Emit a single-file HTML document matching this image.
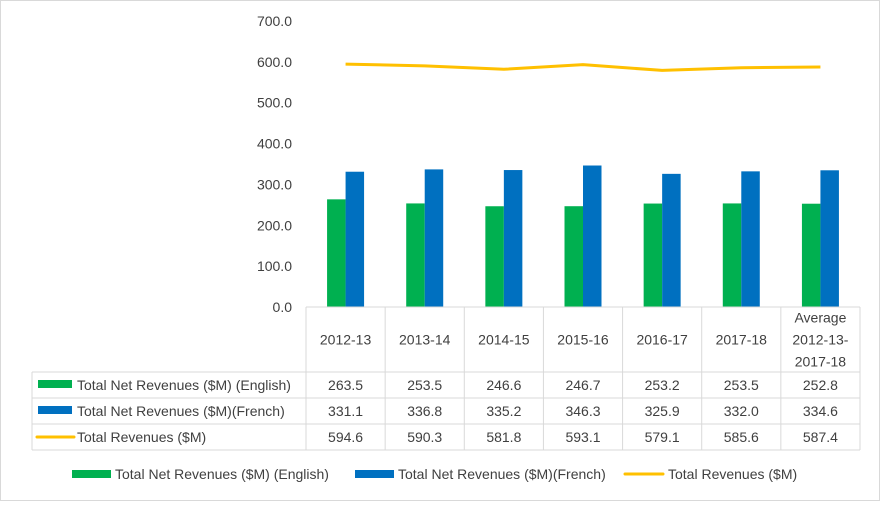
<!DOCTYPE html>
<html><head><meta charset="utf-8"><style>
body{margin:0;background:#fff}
#c{position:relative;width:880px;height:501px;font-family:"Liberation Sans",sans-serif;color:#404040}
svg text{font-family:"Liberation Sans",sans-serif;fill:#404040;font-size:14px}
</style></head><body>
<div id="c">
<svg id="s" width="880" height="501"></svg>
</div>
<script>
const categories=["2012-13","2013-14","2014-15","2015-16","2016-17","2017-18","Average|2012-13-|2017-18"];
const english=[263.5,253.5,246.6,246.7,253.2,253.5,252.8];
const french=[331.1,336.8,335.2,346.3,325.9,332.0,334.6];
const total=[594.6,590.3,581.8,593.1,579.1,585.6,587.4];
const yTicks=[0,100,200,300,400,500,600,700];
const seriesNames=["Total Net Revenues ($M) (English)","Total Net Revenues ($M)(French)","Total Revenues ($M)"];
const colors=["#00b050","#0070c0","#ffc000"];
const NS="http://www.w3.org/2000/svg";
const s=document.getElementById('s');
const x0=306,x1=860,y0=307,yTop=21,ymax=700;
const cw=(x1-x0)/categories.length;
const Y=v=>y0-(v/ymax)*(y0-yTop);
const X=i=>x0+cw*(i+0.5);
function mk(t,a,p){const e=document.createElementNS(NS,t);for(const k in a)e.setAttribute(k,a[k]);(p||s).appendChild(e);return e;}
const border=mk('rect',{x:0.5,y:0.5,width:879,height:500,fill:'none',stroke:'#d9d9d9'});


yTicks.forEach(v=>{const t=mk('text',{x:292,y:Y(v)+5,'text-anchor':'end'});t.textContent=v.toFixed(1);

});
english.forEach((v,i)=>{const r=mk('rect',{x:X(i)-18.5,y:Y(v),width:18.5,height:y0-Y(v),fill:colors[0]});

});
french.forEach((v,i)=>{const r=mk('rect',{x:X(i),y:Y(v),width:18.5,height:y0-Y(v),fill:colors[1]});

});
const ln=mk('polyline',{points:total.map((v,i)=>X(i)+','+Y(v)).join(' '),fill:'none',stroke:colors[2],'stroke-width':3,'stroke-linejoin':'round'});


const g='#d9d9d9';
const rowsY=[307,372,398,424,450];
mk('line',{x1:x0,y1:307,x2:x1,y2:307,stroke:g});
for(let i=0;i<=categories.length;i++){mk('line',{x1:x0+cw*i,y1:307,x2:x0+cw*i,y2:450,stroke:g});}
[1,2,3,4].forEach(k=>mk('line',{x1:32,y1:rowsY[k],x2:x1,y2:rowsY[k],stroke:g}));
mk('line',{x1:32,y1:372,x2:32,y2:450,stroke:g});
categories.forEach((c,i)=>{const parts=c.split('|');const st=339.5-(parts.length-1)*11;
parts.forEach((p,j)=>{const t=mk('text',{x:X(i),y:st+j*22+5,'text-anchor':'middle'});t.textContent=p;

});});
[english,french,total].forEach((arr,r)=>{const cy=(rowsY[r+1]+rowsY[r+2])/2+5;
if(r<2){mk('rect',{x:38,y:cy-10,width:34,height:8,fill:colors[r]});}else{mk('line',{x1:37,y1:cy-5,x2:74,y2:cy-5,stroke:colors[r],'stroke-width':3,'stroke-linecap':'round'});}
const lt=mk('text',{x:77,y:cy});lt.textContent=seriesNames[r];


arr.forEach((v,i)=>{const t=mk('text',{x:X(i),y:cy,'text-anchor':'middle'});t.textContent=v.toFixed(1);

});});
const lx=[72,355,625];
seriesNames.forEach((n,r)=>{const gg=mk('g',{});


if(r<2)mk('rect',{x:lx[r],y:470,width:39,height:8,fill:colors[r]},gg);else mk('line',{x1:lx[r],y1:474,x2:lx[r]+38,y2:474,stroke:colors[r],'stroke-width':3,'stroke-linecap':'round'},gg);
const t=mk('text',{x:lx[r]+43,y:479},gg);t.textContent=n;});
</script>
</body></html>
